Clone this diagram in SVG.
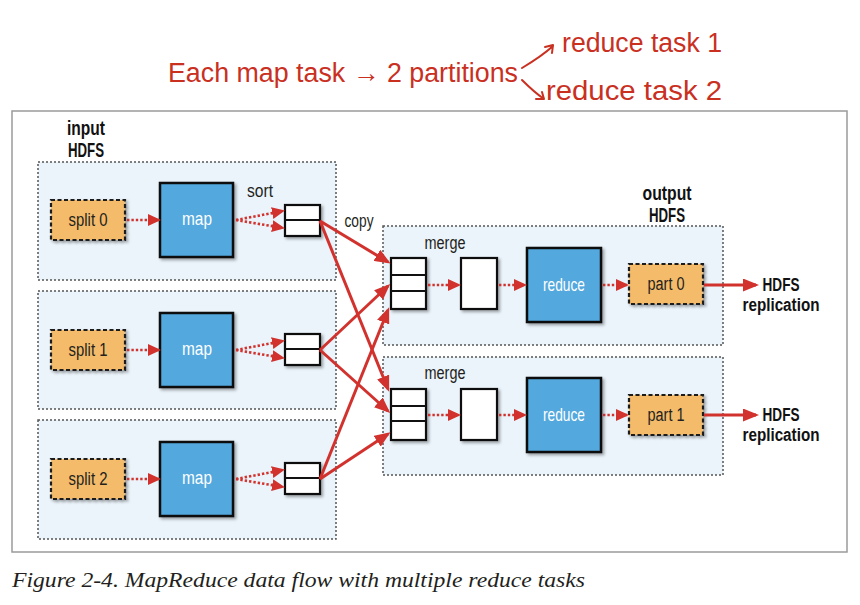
<svg xmlns="http://www.w3.org/2000/svg" width="860" height="605" viewBox="0 0 860 605">
<defs>
<style>
.frame{fill:#fff;stroke:#9a9a9a;stroke-width:1.5}
.grp{fill:#ebf4fb;stroke:#555;stroke-width:1.5;stroke-dasharray:2 2}
.file{fill:#f4bb6b;stroke:#1a1a1a;stroke-width:2.2;stroke-dasharray:4 2.5;filter:url(#sh)}
.task{fill:#52a8de;stroke:#111;stroke-width:2.5;filter:url(#sh)}
.buf{fill:#fff;stroke:#111;stroke-width:2.2;filter:url(#sh)}
.bufl{stroke:#111;stroke-width:2.2;fill:none}
.t{font-family:"Liberation Sans",Arial,sans-serif;font-size:18px;fill:#231f20}
.w{fill:#fff;font-size:19px}
.b{font-weight:bold;font-size:21px;fill:#111}
.r{font-weight:bold;font-size:17.5px;fill:#111}
.dot{stroke:#d2322d;stroke-width:2.6;stroke-dasharray:2.4 2;fill:none}
.sol{stroke:#d2322d;stroke-width:3;fill:none}
.hand{font-family:"Liberation Sans",Arial,sans-serif;font-size:27px;fill:#c9301f}
.handl{stroke:#c9301f;stroke-width:2;fill:none;stroke-linecap:round;stroke-linejoin:round}
.cap{font-family:"Liberation Serif","Times New Roman",serif;font-style:italic;font-size:22px;fill:#231f20}
</style>
<filter id="sh" x="-20%" y="-20%" width="150%" height="150%">
<feDropShadow dx="2" dy="2" stdDeviation="1.5" flood-color="#000" flood-opacity="0.35"/>
</filter>
<marker id="ad" markerUnits="userSpaceOnUse" markerWidth="13" markerHeight="12" refX="11" refY="6" orient="auto">
<path d="M0,0 L13,6 L0,12 z" fill="#d2322d"/>
</marker>
<marker id="as" markerUnits="userSpaceOnUse" markerWidth="16" markerHeight="13" refX="13" refY="6.5" orient="auto">
<path d="M0,0 L16,6.5 L0,13 z" fill="#d2322d"/>
</marker>
</defs>

<g id="annotation">
<text class="hand" x="168" y="82" textLength="350" lengthAdjust="spacingAndGlyphs">Each map task → 2 partitions</text>
<path class="handl" d="M522,68 C532,62 542,56 553,46 M545,47 L553,45 L552,53"/>
<path class="handl" d="M522,80 C528,86 534,92 544,99 M536,99 L544,99 L542,92"/>
<text class="hand" x="562" y="52" textLength="160" lengthAdjust="spacingAndGlyphs">reduce task 1</text>
<text class="hand" x="546" y="100" textLength="176" lengthAdjust="spacingAndGlyphs">reduce task 2</text>
</g>

<rect id="frame" class="frame" x="12" y="111" width="835" height="441"/>

<g id="input-hdfs-label">
<text class="t b" x="86" y="135" text-anchor="middle" textLength="38" lengthAdjust="spacingAndGlyphs">input</text>
<text class="t b" x="86" y="157" text-anchor="middle" textLength="36" lengthAdjust="spacingAndGlyphs">HDFS</text>
</g>
<g id="output-hdfs-label">
<text class="t b" x="667" y="200" text-anchor="middle" textLength="49" lengthAdjust="spacingAndGlyphs">output</text>
<text class="t b" x="667" y="222" text-anchor="middle" textLength="36" lengthAdjust="spacingAndGlyphs">HDFS</text>
</g>

<g id="map-node-1"><rect class="grp" x="38" y="162" width="298" height="118"/></g>
<g id="map-node-2"><rect class="grp" x="38" y="291" width="298" height="118"/></g>
<g id="map-node-3"><rect class="grp" x="38" y="420" width="298" height="119"/></g>
<g id="reduce-node-1"><rect class="grp" x="383" y="226" width="340" height="119"/></g>
<g id="reduce-node-2"><rect class="grp" x="383" y="357" width="340" height="118"/></g>

<g id="split0"><rect class="file" x="51" y="200" width="74" height="40"/><text class="t" x="88" y="226" text-anchor="middle" textLength="39" lengthAdjust="spacingAndGlyphs">split 0</text></g>
<g id="split1"><rect class="file" x="51" y="330" width="74" height="40"/><text class="t" x="88" y="356" text-anchor="middle" textLength="39" lengthAdjust="spacingAndGlyphs">split 1</text></g>
<g id="split2"><rect class="file" x="51" y="459" width="74" height="40"/><text class="t" x="88" y="485" text-anchor="middle" textLength="39" lengthAdjust="spacingAndGlyphs">split 2</text></g>

<g id="map1"><rect class="task" x="160" y="183" width="73" height="74"/><text class="t w" x="197" y="225" text-anchor="middle" textLength="30" lengthAdjust="spacingAndGlyphs">map</text></g>
<g id="map2"><rect class="task" x="160" y="313" width="73" height="74"/><text class="t w" x="197" y="355" text-anchor="middle" textLength="30" lengthAdjust="spacingAndGlyphs">map</text></g>
<g id="map3"><rect class="task" x="160" y="442" width="73" height="74"/><text class="t w" x="197" y="484" text-anchor="middle" textLength="30" lengthAdjust="spacingAndGlyphs">map</text></g>

<g id="sort-label"><text class="t" x="260" y="197" text-anchor="middle" textLength="26" lengthAdjust="spacingAndGlyphs">sort</text></g>
<g id="copy-label"><text class="t" x="359" y="227" text-anchor="middle" textLength="29" lengthAdjust="spacingAndGlyphs">copy</text></g>

<g id="sortbuf1"><rect class="buf" x="285" y="205" width="35" height="31"/><line class="bufl" x1="285" y1="220" x2="320" y2="220"/></g>
<g id="sortbuf2"><rect class="buf" x="285" y="334" width="35" height="31"/><line class="bufl" x1="285" y1="349" x2="320" y2="349"/></g>
<g id="sortbuf3"><rect class="buf" x="285" y="463" width="35" height="31"/><line class="bufl" x1="285" y1="478" x2="320" y2="478"/></g>

<g id="merge-label-1"><text class="t" x="445" y="249" text-anchor="middle" textLength="41" lengthAdjust="spacingAndGlyphs">merge</text></g>
<g id="merge-label-2"><text class="t" x="445" y="379" text-anchor="middle" textLength="41" lengthAdjust="spacingAndGlyphs">merge</text></g>

<g id="mergebuf1"><rect class="buf" x="391" y="258" width="35" height="51"/><line class="bufl" x1="391" y1="275" x2="426" y2="275"/><line class="bufl" x1="391" y1="291" x2="426" y2="291"/></g>
<g id="mergebuf2"><rect class="buf" x="391" y="389" width="35" height="51"/><line class="bufl" x1="391" y1="406" x2="426" y2="406"/><line class="bufl" x1="391" y1="421" x2="426" y2="421"/></g>

<g id="merged1"><rect class="buf" x="461" y="258" width="36" height="51"/></g>
<g id="merged2"><rect class="buf" x="461" y="389" width="36" height="51"/></g>

<g id="reduce1"><rect class="task" x="527" y="248" width="74" height="74"/><text class="t w" x="564" y="291" text-anchor="middle" textLength="42" lengthAdjust="spacingAndGlyphs">reduce</text></g>
<g id="reduce2"><rect class="task" x="527" y="378" width="74" height="74"/><text class="t w" x="564" y="421" text-anchor="middle" textLength="42" lengthAdjust="spacingAndGlyphs">reduce</text></g>

<g id="part0"><rect class="file" x="629" y="264" width="74" height="40"/><text class="t" x="666" y="290" text-anchor="middle" textLength="37" lengthAdjust="spacingAndGlyphs">part 0</text></g>
<g id="part1"><rect class="file" x="629" y="395" width="74" height="40"/><text class="t" x="666" y="421" text-anchor="middle" textLength="37" lengthAdjust="spacingAndGlyphs">part 1</text></g>

<g id="hdfs-replication-1"><text class="t r" x="781" y="291" text-anchor="middle" textLength="37" lengthAdjust="spacingAndGlyphs">HDFS</text><text class="t r" x="781" y="311" text-anchor="middle" textLength="77" lengthAdjust="spacingAndGlyphs">replication</text></g>
<g id="hdfs-replication-2"><text class="t r" x="781" y="421" text-anchor="middle" textLength="37" lengthAdjust="spacingAndGlyphs">HDFS</text><text class="t r" x="781" y="441" text-anchor="middle" textLength="77" lengthAdjust="spacingAndGlyphs">replication</text></g>

<g id="connectors">
<line class="dot" x1="127" y1="220" x2="159" y2="220" marker-end="url(#ad)"/>
<line class="dot" x1="127" y1="350" x2="159" y2="350" marker-end="url(#ad)"/>
<line class="dot" x1="127" y1="479" x2="159" y2="479" marker-end="url(#ad)"/>
<line class="dot" x1="236" y1="220" x2="283" y2="211" marker-end="url(#ad)"/>
<line class="dot" x1="236" y1="220" x2="283" y2="228" marker-end="url(#ad)"/>
<line class="dot" x1="236" y1="350" x2="283" y2="341" marker-end="url(#ad)"/>
<line class="dot" x1="236" y1="350" x2="283" y2="358" marker-end="url(#ad)"/>
<line class="dot" x1="236" y1="479" x2="283" y2="470" marker-end="url(#ad)"/>
<line class="dot" x1="236" y1="479" x2="283" y2="487" marker-end="url(#ad)"/>
<line class="sol" x1="320" y1="221" x2="388" y2="262" marker-end="url(#as)"/>
<line class="sol" x1="320" y1="221" x2="388" y2="389" marker-end="url(#as)"/>
<line class="sol" x1="320" y1="350" x2="388" y2="286" marker-end="url(#as)"/>
<line class="sol" x1="320" y1="350" x2="388" y2="411" marker-end="url(#as)"/>
<line class="sol" x1="320" y1="479" x2="388" y2="310" marker-end="url(#as)"/>
<line class="sol" x1="320" y1="479" x2="388" y2="434" marker-end="url(#as)"/>
<line class="dot" x1="428" y1="285" x2="459" y2="285" marker-end="url(#ad)"/>
<line class="dot" x1="499" y1="285" x2="525" y2="285" marker-end="url(#ad)"/>
<line class="dot" x1="603" y1="285" x2="627" y2="285" marker-end="url(#ad)"/>
<line class="dot" x1="428" y1="415" x2="459" y2="415" marker-end="url(#ad)"/>
<line class="dot" x1="499" y1="415" x2="525" y2="415" marker-end="url(#ad)"/>
<line class="dot" x1="603" y1="415" x2="627" y2="415" marker-end="url(#ad)"/>
<line class="sol" x1="704" y1="285" x2="756" y2="285" marker-end="url(#as)"/>
<line class="sol" x1="704" y1="415" x2="756" y2="415" marker-end="url(#as)"/>
</g>

<text class="cap" x="12" y="587" textLength="573" lengthAdjust="spacingAndGlyphs">Figure 2-4. MapReduce data flow with multiple reduce tasks</text>
</svg>
